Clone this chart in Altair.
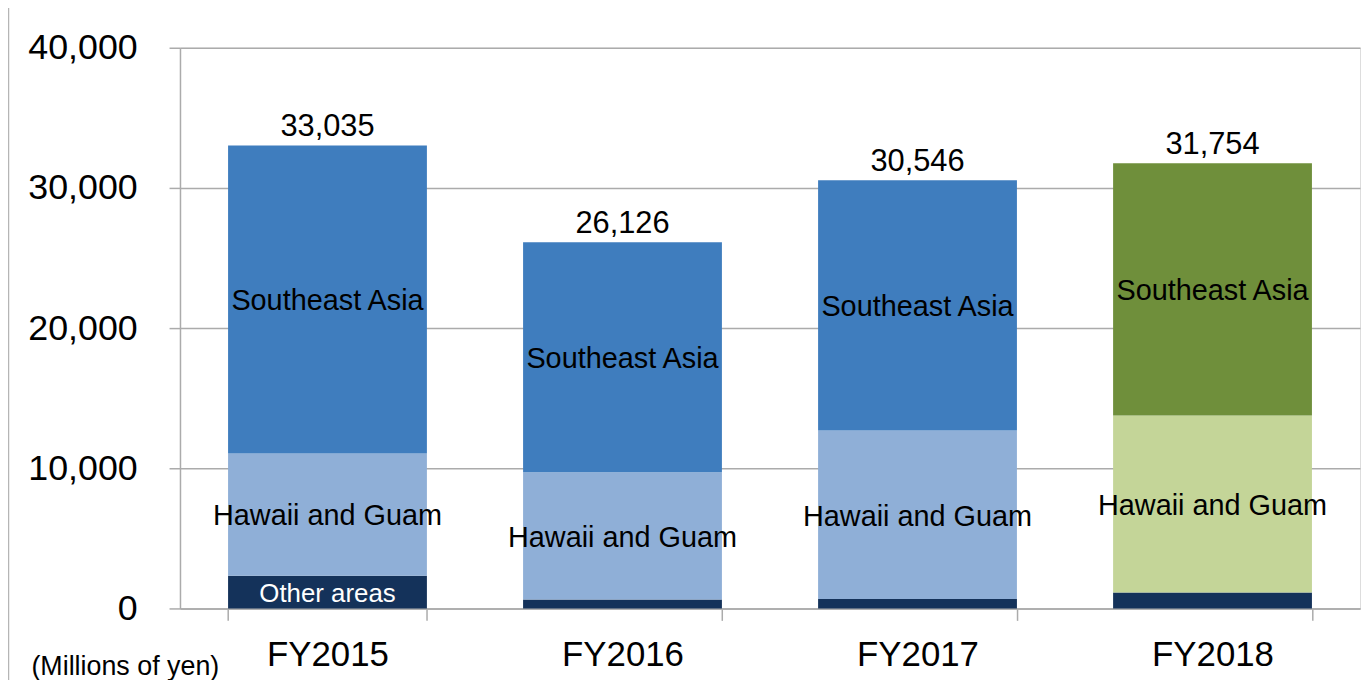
import altair as alt
import pandas as pd

years = ["FY2015", "FY2016", "FY2017", "FY2018"]
other_areas = [2340, 640, 670, 1130]
hawaii_guam = [8720, 9080, 12030, 12630]
southeast_asia = [21975, 16406, 17846, 17994]
totals = [33035, 26126, 30546, 31754]

other_label = ["Other areas", "", "", ""]
hawaii_label = ["Hawaii and Guam"] * 4
sea_label = ["Southeast Asia"] * 4
palette_group = ["blue", "blue", "blue", "green"]

rows = []
for i, y in enumerate(years):
    g = palette_group[i]
    rows.append({"year": y, "region": "Other areas", "value": other_areas[i], "order": 0,
                 "ckey": "other", "label": other_label[i]})
    rows.append({"year": y, "region": "Hawaii and Guam", "value": hawaii_guam[i], "order": 1,
                 "ckey": g + "_hg", "label": hawaii_label[i]})
    rows.append({"year": y, "region": "Southeast Asia", "value": southeast_asia[i], "order": 2,
                 "ckey": g + "_sea", "label": sea_label[i]})
df = pd.DataFrame(rows)
tot = pd.DataFrame({"year": years, "total": totals})

FONT = "Liberation Sans"
GRID = "#ABABAB"

color_scale = alt.Scale(
    domain=["other", "blue_hg", "blue_sea", "green_hg", "green_sea"],
    range=["#14325A", "#8FAFD7", "#3F7DBE", "#C4D598", "#6F8F3B"],
)
x_scale = alt.Scale(domain=years, paddingInner=0.326, paddingOuter=0.163)
y_scale = alt.Scale(domain=[0, 40000], nice=False)

base = alt.Chart(df).transform_stack(
    stack="value", groupby=["year"], as_=["v0", "v1"],
    sort=[alt.SortField("order", order="ascending")],
).transform_calculate(mid="(datum.v0 + datum.v1) / 2")

x_enc = alt.X("year:N", scale=x_scale, sort=years,
              axis=alt.Axis(title=None, labelAngle=0, labelFontSize=35, labelFont=FONT,
                            labelColor="black", tickBand="extent", tickSize=12,
                            tickColor=GRID, tickWidth=1.5, domainColor=GRID, domainWidth=1.5,
                            labelPadding=17, grid=False))

bars = base.mark_bar().encode(
    x=x_enc,
    y=alt.Y("v0:Q", scale=y_scale,
            axis=alt.Axis(title=None, values=[0, 10000, 20000, 30000, 40000], format=",.0f",
                          labelFontSize=36, labelFont=FONT, labelColor="black",
                          tickSize=11, tickColor=GRID, tickWidth=1.5, labelPadding=32,
                          grid=True, gridColor=GRID, gridWidth=1.5,
                          domainColor=GRID, domainWidth=1.5)),
    y2="v1:Q",
    color=alt.Color("ckey:N", scale=color_scale, legend=None),
)

seg_text = base.transform_filter("datum.order > 0").mark_text(
    font=FONT, fontSize=29, color="black", baseline="middle", align="center", dy=2
).encode(x=alt.X("year:N", scale=x_scale, sort=years), y=alt.Y("mid:Q", scale=y_scale),
         text="label:N")

other_text = base.transform_filter("datum.order == 0").mark_text(
    font=FONT, fontSize=26, color="white", baseline="middle", align="center", dy=2
).encode(x=alt.X("year:N", scale=x_scale, sort=years), y=alt.Y("mid:Q", scale=y_scale),
         text="label:N")

total_text = alt.Chart(tot).mark_text(
    font=FONT, fontSize=31, color="black", baseline="alphabetic", align="center", dy=-9
).encode(x=alt.X("year:N", scale=x_scale, sort=years),
         y=alt.Y("total:Q", scale=y_scale),
         text=alt.Text("total:Q", format=",.0f"))

unit_text = alt.Chart(pd.DataFrame({"t": ["(Millions of yen)"]})).mark_text(
    font=FONT, fontSize=27, color="black", align="center", baseline="alphabetic"
).encode(x=alt.value(-55), y=alt.value(631), text="t:N")

border = alt.Chart(pd.DataFrame({"a": [0]})).mark_rule(color="#B5B5B5", strokeWidth=1.5).encode(
    x=alt.value(-172.5), y=alt.value(-46), y2=alt.value(640))

chart = alt.layer(bars, seg_text, other_text, total_text, unit_text, border).properties(
    width=1187, height=564,
    autosize=alt.AutoSizeParams(type="none"),
    padding={"left": 173, "top": 38, "right": 4, "bottom": 70},
).configure_view(stroke=None).configure(background="white")

chart.save("out.html", embed_options={"renderer": "svg", "actions": False})
